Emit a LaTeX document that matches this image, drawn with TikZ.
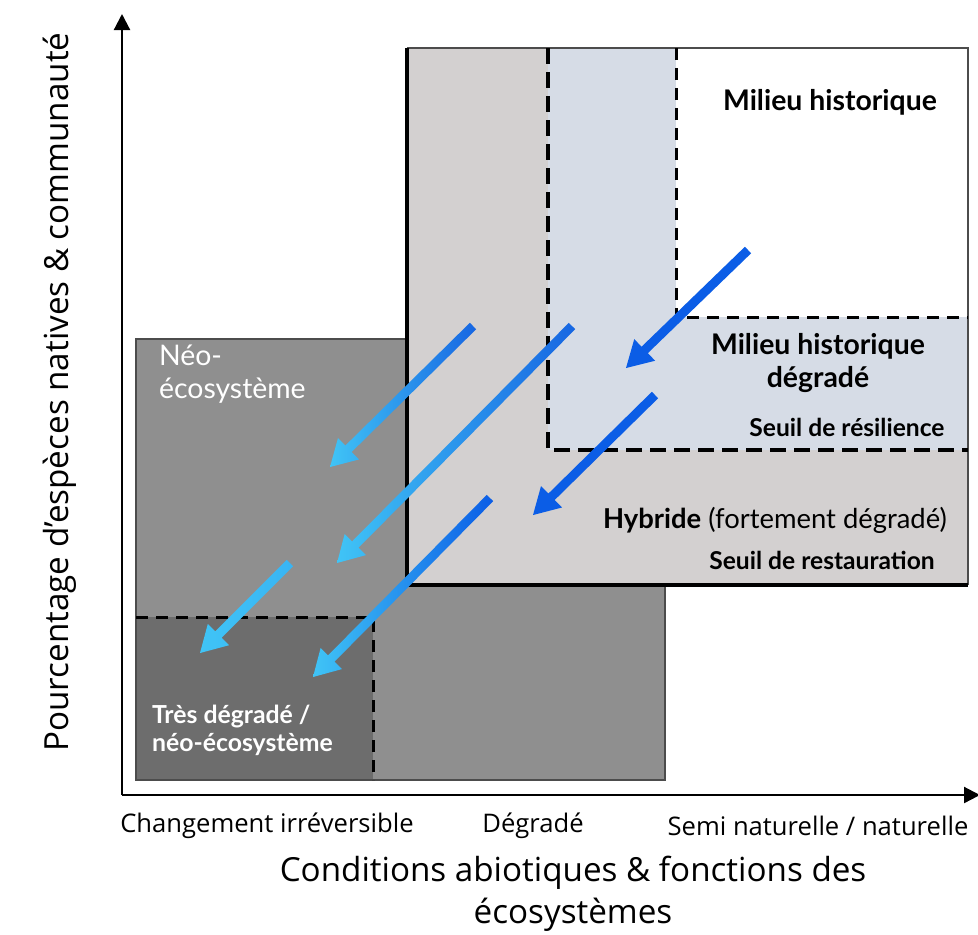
\documentclass[tikz,border=0pt]{standalone}
\usepackage{fontspec}
\setmainfont{Lato}
\newfontfamily\axefont{Open Sans}
\usetikzlibrary{calc,arrows.meta}

\definecolor{neo}{HTML}{8F8F8F}
\definecolor{tres}{HTML}{6D6D6D}
\definecolor{hyb}{HTML}{D3D0D0}
\definecolor{pale}{HTML}{D6DCE6}
\definecolor{bleu}{HTML}{0B5DE6}
\definecolor{bleuA}{HTML}{1766E2}
\definecolor{ciel}{HTML}{40C4F6}

\begin{document}
\begin{tikzpicture}[x=0.5pt, y=-0.5pt, >={Triangle[width=8pt,length=8pt]}, font=\fontsize{10.5}{12}\selectfont]
    \tikzstyle{border}=[draw=black!70, line width=0.7pt]
    \tikzstyle{seuil}=[dash pattern=on 8pt off 4pt, line width=2.4pt]
    \tikzstyle{seuilfin}=[dash pattern=on 6pt off 4pt, line width=1.5pt]
    \tikzstyle{titre}=[font=\bfseries\fontsize{14.2}{16.5}\selectfont, align=center]
    \tikzstyle{seuiltxt}=[font=\bfseries\fontsize{12.3}{14}\selectfont]
    \tikzstyle{axe}=[font=\axefont\fontsize{12.8}{14}\selectfont]
    \tikzstyle{axetitre}=[font=\axefont\fontsize{16.6}{21}\selectfont]
    \useasboundingbox (0,0) rectangle (978,934);

    % zones
    \fill[neo] (136,339) rectangle (665,780);
    \fill[tres] (136,617) rectangle (373,780);
    \draw[border] (136,339) rectangle (665,780);
    \draw[seuilfin] (136,617) -| (373,780);

    \fill[hyb] (407,48) rectangle (968,585);
    \fill[pale] (548,48) -- (676,48) -- (676,317) -- (968,317) -- (968,450) -- (548,450) -- cycle;
    \fill[white] (676,48) rectangle (968,317);
    \draw[border] (407,48) -- (968,48) -- (968,585);
    \draw[line width=2pt] (407,48) |- (968,585);
    \draw[seuil] (548,48) |- (968,450);
    \draw[seuilfin] (676,48) |- (968,317);

    % axes
    \coordinate (O) at (122,795);
    \coordinate (ytop) at (122,14);
    \coordinate (xend) at (980,795);
    \draw[line width=1.1pt, ->] (O) -- (ytop);
    \draw[line width=1.1pt, ->] (O) -- (xend);

    % textes
    \node[titre] (hist) at (830,102) {Milieu historique};
    \node[titre] (histdeg) at (818,363) {Milieu historique\\dégradé};
    \node[seuiltxt] (resil) at (847,427) {Seuil de résilience};
    \node[font=\fontsize{13.7}{15}\selectfont] (hybr) at (775,520) {\textbf{Hybride} (fortement dégradé)};
    \node[seuiltxt] (resto) at (822,560) {Seuil de restauration};
    \node[white, align=left, anchor=north west, font=\fontsize{14.2}{16.5}\selectfont] (neotxt) at (152,338) {Néo-\\écosystème};
    \node[white, align=left, anchor=west, font=\bfseries\fontsize{12.4}{14}\selectfont] (trestxt) at (145,730) {Très dégradé /\\néo-écosystème};

    \node[axe] (chg) at (267,826) {Changement irréversible};
    \node[axe] (degr) at (533,826) {Dégradé};
    \node[axe] (semi) at (818,826) {Semi naturelle / naturelle};
    \node[axetitre, align=center] (xlab) at (573,894) {Conditions abiotiques \& fonctions des\\écosystèmes};
    \node[axetitre, rotate=90] (ylab) at (60,392) {Pourcentage d’espèces natives \& communauté};

    % fleches
    \coordinate (s1) at (473,326); \coordinate (e1) at (330,467);
    \coordinate (s2) at (572,326); \coordinate (e2) at (337,563);
    \coordinate (s3) at (748,250); \coordinate (e3) at (626,368);
    \coordinate (s4) at (655,395); \coordinate (e4) at (533,515);
    \coordinate (s5) at (290,563); \coordinate (e5) at (200,653);
    \coordinate (s6) at (490,498); \coordinate (e6) at (313,677);
    \foreach \n/\cs/\ce in {1/bleuA/ciel, 2/bleuA/ciel, 3/bleu/bleu, 4/bleu/bleu, 5/ciel!85!bleu/ciel, 6/bleu/ciel} {
      \coordinate (h) at ($(e\n)!13pt!(s\n)$);
      \shade[left color=\ce, right color=\cs]
        ($(s\n)!2.25pt!90:(e\n)$) -- ($(h)!2.25pt!90:(e\n)$) -- ($(h)!7.5pt!90:(e\n)$) -- (e\n)
        -- ($(h)!7.5pt!-90:(e\n)$) -- ($(h)!2.25pt!-90:(e\n)$) -- ($(s\n)!2.25pt!-90:(e\n)$) -- cycle;
    }
  \end{tikzpicture}
\end{document}
